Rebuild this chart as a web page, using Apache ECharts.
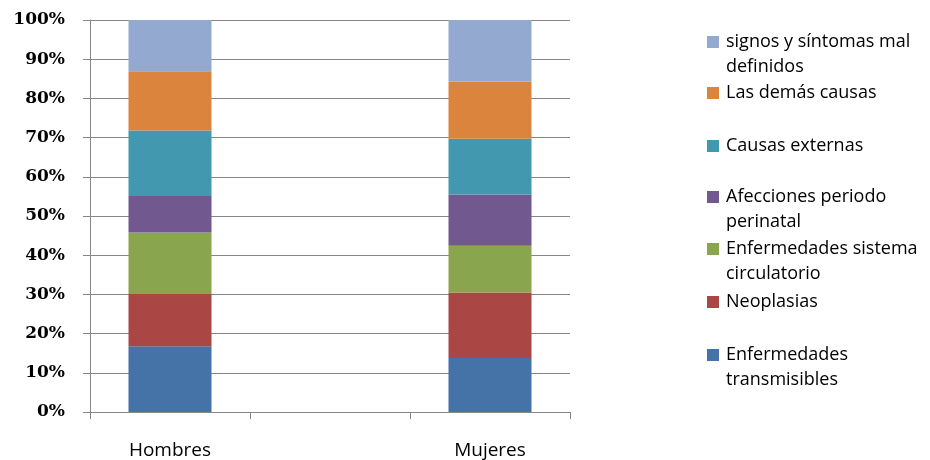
<!DOCTYPE html>
<html>
<head>
<meta charset="utf-8">
<script src="https://cdn.jsdelivr.net/npm/echarts@6/dist/echarts.min.js"></script>
<style>
  html, body { margin: 0; padding: 0; background: #fff; }
  #chart { width: 930px; height: 460px; }
</style>
</head>
<body>
<div id="chart"></div>
<script>
// Categories (the middle slot is left empty to space the two bars)
const categories = ['Hombres', '', 'Mujeres'];

// Share of deaths by cause group, percent (stacked to 100)
const causeNames = [
  'Enfermedades transmisibles',
  'Neoplasias',
  'Enfermedades sistema circulatorio',
  'Afecciones periodo perinatal',
  'Causas externas',
  'Las demás causas',
  'signos y síntomas mal definidos'
];
const transmisibles = [16.8, null, 13.8];
const neoplasias    = [13.3, null, 16.7];
const circulatorio  = [15.7, null, 11.9];
const perinatal     = [9.3,  null, 13.1];
const externas      = [16.7, null, 14.2];
const demas         = [15.1, null, 14.6];
const malDefinidos  = [13.1, null, 15.7];

// Legend wording, broken over two lines where it wraps
const legendText = [
  'Enfermedades\ntransmisibles',
  'Neoplasias',
  'Enfermedades sistema\ncirculatorio',
  'Afecciones periodo\nperinatal',
  'Causas externas',
  'Las demás causas',
  'signos y síntomas mal\ndefinidos'
];

const colors = ['#4572A7', '#AA4643', '#89A54E', '#71588F', '#4198AF', '#DB843D', '#93A9CF'];
const seriesValues = [transmisibles, neoplasias, circulatorio, perinatal, externas, demas, malDefinidos];

// Legend entries sit in equal slots, top entry = last series
const legendIconCenters = [355, 302, 249, 197, 146, 93, 42];

const chart = echarts.init(document.getElementById('chart'), null, { renderer: 'canvas' });

const legendFont = 'Open Sans';
const legends = causeNames.map((name, i) => {
  const twoLines = legendText[i].indexOf('\n') >= 0;
  // a leading empty line keeps the swatch level with the first text line
  const shown = twoLines ? '\n' + legendText[i] : legendText[i];
  return {
    orient: 'vertical',
    left: 707,
    top: legendIconCenters[i] - (twoLines ? 37.5 : 12.5),
    padding: 0,
    itemWidth: 12,
    itemHeight: 12,
    itemGap: 0,
    icon: 'rect',
    data: [name],
    selectedMode: false,
    formatter: () => shown,
    textStyle: {
      fontFamily: legendFont,
      fontSize: 18,
      lineHeight: 25,
      color: '#000',
      padding: [0, 0, 0, 2]
    }
  };
});

const option = {
  animation: false,
  backgroundColor: '#fff',
  color: colors,
  legend: legends,
  grid: { left: 90, right: 360, top: 20, bottom: 47, containLabel: false },
  xAxis: {
    type: 'category',
    data: categories,
    boundaryGap: true,
    axisLine: { lineStyle: { color: '#868686', width: 1 } },
    axisTick: { show: true, length: 7, lineStyle: { color: '#868686' } },
    axisLabel: {
      fontFamily: legendFont,
      fontSize: 19,
      color: '#000',
      margin: 29
    },
    splitLine: { show: false }
  },
  yAxis: {
    type: 'value',
    min: 0,
    max: 100,
    interval: 10,
    axisLine: { show: true, lineStyle: { color: '#868686', width: 1 } },
    axisTick: { show: true, length: 7, lineStyle: { color: '#868686' } },
    axisLabel: {
      formatter: '{value}%',
      fontFamily: 'DejaVu Serif',
      fontWeight: 'bold',
      fontSize: 17,
      color: '#000',
      margin: 25
    },
    splitLine: { show: true, lineStyle: { color: '#868686', width: 1 } }
  },
  series: causeNames.map((name, i) => ({
    name: name,
    type: 'bar',
    stack: 'total',
    barWidth: 83,
    data: seriesValues[i],
    itemStyle: { color: colors[i] }
  }))
};

chart.setOption(option);
</script>
</body>
</html>
